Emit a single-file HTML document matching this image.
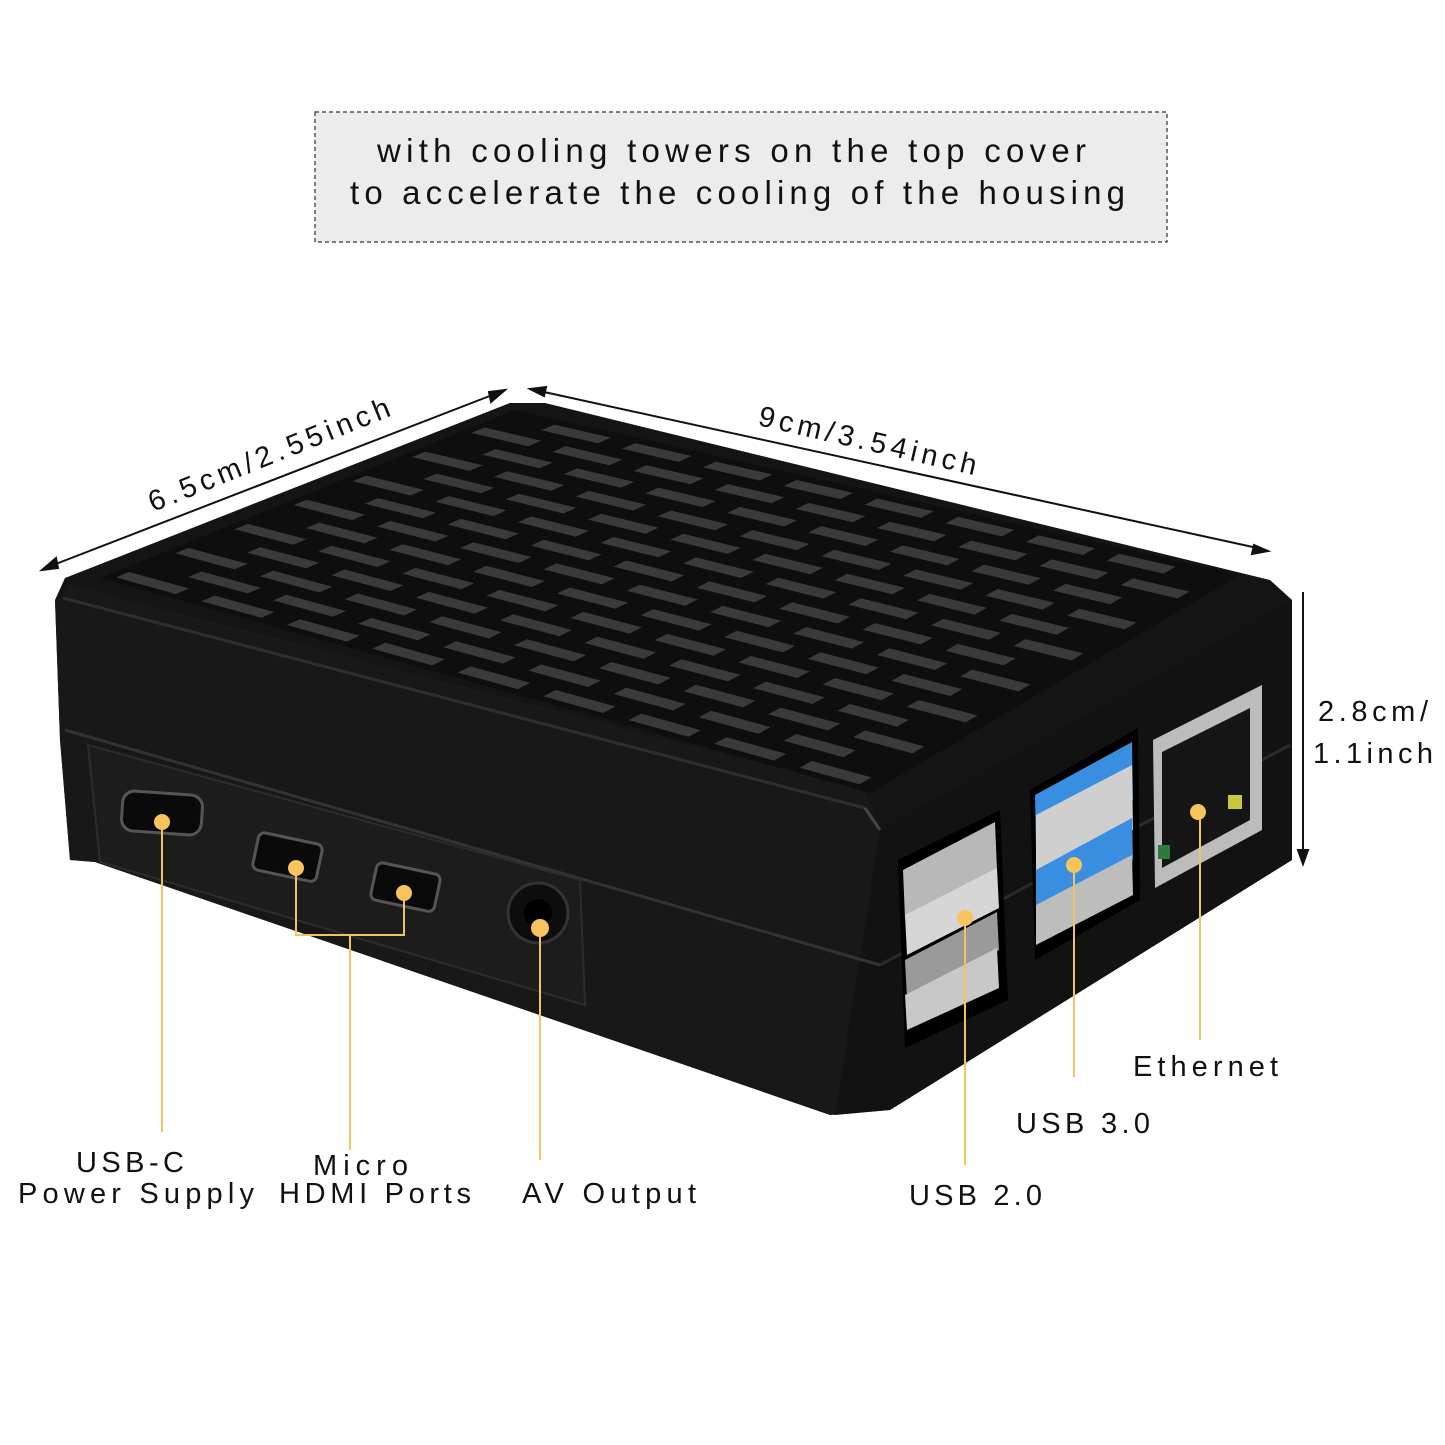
<!DOCTYPE html>
<html><head><meta charset="utf-8"><style>
html,body{margin:0;padding:0;background:#fff;}
svg{display:block;}
text{font-family:"Liberation Sans","DejaVu Sans",sans-serif;fill:#111;}
</style></head><body>
<svg id="s" width="1445" height="1445" viewBox="0 0 1445 1445" xmlns="http://www.w3.org/2000/svg">
<rect x="0" y="0" width="1445" height="1445" fill="#fff"/>
<rect x="315" y="112" width="852" height="130" fill="#ececec" stroke="#555" stroke-width="1.5" stroke-dasharray="4,3"/>
<text x="377" y="162" font-size="33" textLength="709" lengthAdjust="spacing">with cooling towers on the top cover</text>
<text x="350" y="204" font-size="33" textLength="775" lengthAdjust="spacing">to accelerate the cooling of the housing</text>

<g stroke="#111" stroke-width="2" fill="#111">
<line x1="48" y1="567" x2="500" y2="392"/>
<polygon points="42,570 56,558 58,568"/>
<polygon points="505,390 491,402 489,392"/>
<line x1="535" y1="390" x2="1262" y2="549"/>
<polygon points="530,389 546,387 544,396"/>
<polygon points="1268,551 1252,554 1254,545"/>
<line x1="1303" y1="592" x2="1303" y2="858"/>
<polygon points="1303,864 1298,850 1308,850"/>
</g>
<text x="0" y="0" font-size="29" textLength="258" lengthAdjust="spacing" transform="translate(153,512) rotate(-22)">6.5cm/2.55inch</text>
<text x="0" y="0" font-size="29" textLength="223" lengthAdjust="spacing" transform="translate(757,425) rotate(13)">9cm/3.54inch</text>
<text x="1318" y="721" font-size="29" textLength="110" lengthAdjust="spacing">2.8cm/</text>
<text x="1313" y="763" font-size="29" textLength="120" lengthAdjust="spacing">1.1inch</text>

<polygon points="55,600 65,578 510,403 545,403 1270,580 1292,600 1292,860 890,1110 830,1115 95,862 70,860 60,740" fill="#141414"/>
<polygon points="55,600 70,585 865,790 880,830 835,1115 95,862 70,860 60,740" fill="#181818"/>
<polygon points="880,830 1292,600 1292,860 890,1110 835,1115" fill="#121212"/>
<line x1="65" y1="730" x2="880" y2="965" stroke="#333" stroke-width="3"/>
<line x1="880" y1="965" x2="1290" y2="745" stroke="#2a2a2a" stroke-width="3"/>
<polygon points="88,745 580,880 585,1005 100,862" fill="#1c1c1c" stroke="#2c2c2c" stroke-width="2"/>
<line x1="63" y1="598" x2="865" y2="808" stroke="#2e2e2e" stroke-width="3"/>
<line x1="865" y1="808" x2="880" y2="830" stroke="#444" stroke-width="3"/>
<polygon id="top" points="100,578 515,410 1240,575 870,793" fill="#0e0e0e"/>
<g id="grid"></g>

<rect x="122" y="793" width="80" height="40" rx="12" fill="#0a0a0a" stroke="#555" stroke-width="3" transform="rotate(4 162 813)"/>
<rect x="255" y="838" width="65" height="38" rx="6" fill="#0a0a0a" stroke="#555" stroke-width="3" transform="rotate(12 287 857)"/>
<rect x="373" y="868" width="65" height="38" rx="6" fill="#0a0a0a" stroke="#555" stroke-width="3" transform="rotate(12 405 887)"/>
<circle cx="538" cy="913" r="30" fill="#0d0d0d" stroke="#333" stroke-width="3"/>
<circle cx="538" cy="913" r="14" fill="#000"/>
<polygon points="898,860 1000,810 1008,1000 905,1048" fill="#000"/>
<polygon points="903,870 995,822 997,870 905,918" fill="#b8b8b8"/>
<polygon points="905,915 997,868 999,908 907,955" fill="#d6d6d6"/>
<polygon points="905,960 997,912 999,950 907,998" fill="#9a9a9a"/>
<polygon points="905,995 997,948 999,988 907,1030" fill="#c8c8c8"/>
<polygon points="1030,790 1138,728 1140,900 1035,960" fill="#000"/>
<polygon points="1035,795 1132,742 1133,800 1036,852" fill="#3a8ee0"/>
<polygon points="1036,815 1132,765 1133,830 1036,880" fill="#cfcfcf"/>
<polygon points="1036,870 1132,818 1133,860 1036,912" fill="#3a8ee0"/>
<polygon points="1036,905 1132,855 1133,895 1036,945" fill="#bdbdbd"/>
<polygon points="1153,740 1262,685 1262,830 1155,888" fill="#bcbcbc"/>
<polygon points="1162,752 1250,708 1250,820 1162,868" fill="#151515"/>
<rect x="1228" y="795" width="14" height="14" fill="#c8c840"/>
<rect x="1158" y="845" width="12" height="14" fill="#2e7a3a"/>

<g stroke="#f3c262" stroke-width="2" fill="none">
<line x1="162" y1="820" x2="162" y2="1132"/>
<polyline points="296,868 296,935 404,935 404,893"/>
<line x1="350" y1="935" x2="350" y2="1150"/>
<line x1="540" y1="928" x2="540" y2="1160"/>
<line x1="965" y1="918" x2="965" y2="1165"/>
<line x1="1074" y1="865" x2="1074" y2="1077"/>
<line x1="1200" y1="812" x2="1200" y2="1040"/>
</g>
<g fill="#f7c35c">
<circle cx="162" cy="822" r="8"/><circle cx="296" cy="868" r="8"/><circle cx="404" cy="893" r="8"/>
<circle cx="540" cy="928" r="9"/><circle cx="965" cy="918" r="8"/><circle cx="1074" cy="865" r="8"/><circle cx="1198" cy="812" r="8"/>
</g>

<g font-size="29" lengthAdjust="spacing">
<text x="76" y="1172" textLength="108" lengthAdjust="spacing">USB-C</text>
<text x="18" y="1203" textLength="236" lengthAdjust="spacing">Power Supply</text>
<text x="313" y="1175" textLength="95" lengthAdjust="spacing">Micro</text>
<text x="279" y="1203" textLength="192" lengthAdjust="spacing">HDMI Ports</text>
<text x="522" y="1203" textLength="174" lengthAdjust="spacing">AV Output</text>
<text x="909" y="1205" textLength="133" lengthAdjust="spacing">USB 2.0</text>
<text x="1016" y="1133" textLength="134" lengthAdjust="spacing">USB 3.0</text>
<text x="1133" y="1076" textLength="145" lengthAdjust="spacing">Ethernet</text>
</g>
</svg>
<script>
(function(){
var A=[100,578],B=[515,410],C=[1240,575],D=[870,793];
var g=document.getElementById('grid'),ns='http://www.w3.org/2000/svg';
function P(u,v){
 var x0=A[0]+(B[0]-A[0])*u, y0=A[1]+(B[1]-A[1])*u;
 var x1=D[0]+(C[0]-D[0])*u, y1=D[1]+(C[1]-D[1])*u;
 return [x0+(x1-x0)*v, y0+(y1-y0)*v];
}
var R=14,Cn=9;
for(var i=0;i<R;i++){for(var j=0;j<Cn;j++){
 var off=(i%2)*0.5/Cn;
 var u0=(i+0.25)/R,u1=(i+0.7)/R;
 var v0=(j+0.1)/Cn+off,v1=(j+0.8)/Cn+off;
 if(v1>0.98)continue;
 var p=[P(u0,v0),P(u0,v1),P(u1,v1),P(u1,v0)];
 var e=document.createElementNS(ns,'polygon');
 e.setAttribute('points',p.map(function(q){return q[0].toFixed(1)+','+q[1].toFixed(1)}).join(' '));
 e.setAttribute('fill','#3a3a3a');g.appendChild(e);
}}
})();
</script>
</body></html>
